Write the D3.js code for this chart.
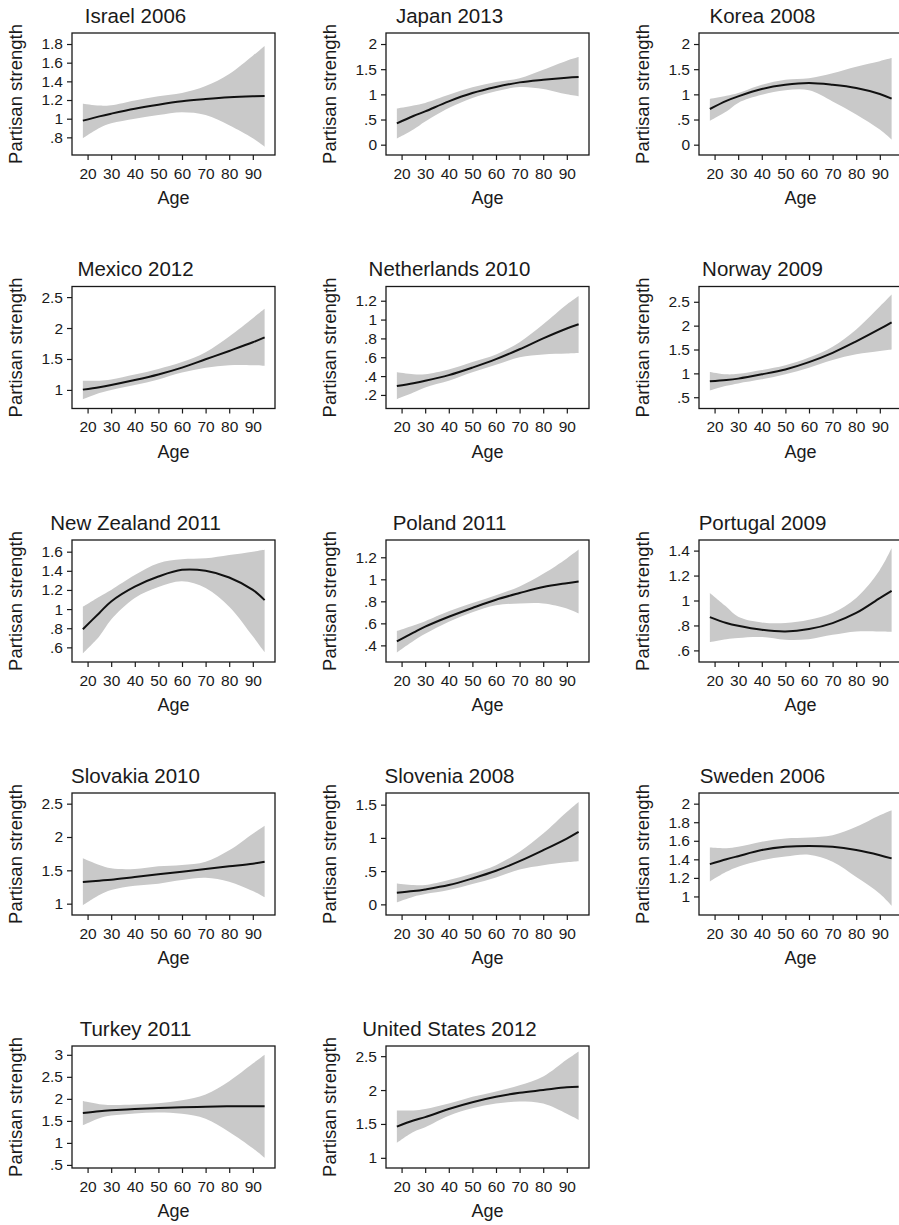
<!DOCTYPE html>
<html>
<head>
<meta charset="utf-8">
<script src="https://cdn.jsdelivr.net/npm/d3@7"></script>
<style>
  html, body { margin: 0; padding: 0; background: #fff; }
  svg { display: block; font-family: "Liberation Sans", Arial, Helvetica, sans-serif; }
</style>
</head>
<body>
<svg id="chart" width="899" height="1225"></svg>
<script>
// Age grid at which the fitted curve and its confidence band are evaluated
const ages = [18, 25, 30, 40, 50, 60, 70, 80, 90, 95];

const titles = [
  "Israel 2006", "Japan 2013", "Korea 2008",
  "Mexico 2012", "Netherlands 2010", "Norway 2009",
  "New Zealand 2011", "Poland 2011", "Portugal 2009",
  "Slovakia 2010", "Slovenia 2008", "Sweden 2006",
  "Turkey 2011", "United States 2012"
];

// Fitted partisan strength by age
const fit = [
  [0.979, 1.025, 1.054, 1.107, 1.15, 1.186, 1.21, 1.229, 1.24, 1.243],
  [0.424, 0.57, 0.662, 0.861, 1.026, 1.146, 1.238, 1.29, 1.33, 1.344],
  [0.709, 0.87, 0.96, 1.106, 1.19, 1.225, 1.19, 1.126, 1.007, 0.914],
  [1.005, 1.045, 1.08, 1.16, 1.25, 1.36, 1.495, 1.63, 1.77, 1.85],
  [0.295, 0.325, 0.35, 0.41, 0.49, 0.58, 0.685, 0.8, 0.905, 0.95],
  [0.833, 0.86, 0.89, 0.98, 1.083, 1.236, 1.43, 1.67, 1.93, 2.07],
  [0.79, 0.96, 1.08, 1.235, 1.34, 1.41, 1.40, 1.33, 1.2, 1.094],
  [0.437, 0.515, 0.57, 0.66, 0.74, 0.815, 0.875, 0.93, 0.965, 0.98],
  [0.867, 0.82, 0.797, 0.765, 0.752, 0.771, 0.819, 0.9, 1.019, 1.077],
  [1.324, 1.345, 1.36, 1.40, 1.44, 1.48, 1.52, 1.56, 1.60, 1.63],
  [0.175, 0.2, 0.225, 0.29, 0.39, 0.505, 0.65, 0.815, 0.99, 1.09],
  [1.348, 1.40, 1.434, 1.50, 1.535, 1.545, 1.535, 1.50, 1.445, 1.41],
  [1.68, 1.72, 1.74, 1.77, 1.79, 1.81, 1.82, 1.83, 1.83, 1.83],
  [1.46, 1.55, 1.6, 1.72, 1.82, 1.9, 1.96, 2.0, 2.04, 2.05]
];

// Upper bound of the 95% confidence band
const upper = [
  [1.16, 1.14, 1.145, 1.196, 1.24, 1.275, 1.35, 1.48, 1.675, 1.78],
  [0.72, 0.78, 0.83, 0.99, 1.14, 1.245, 1.32, 1.49, 1.67, 1.74],
  [0.907, 0.97, 1.026, 1.19, 1.29, 1.32, 1.42, 1.55, 1.66, 1.72],
  [1.15, 1.15, 1.17, 1.25, 1.34, 1.45, 1.61, 1.865, 2.16, 2.31],
  [0.44, 0.42, 0.42, 0.47, 0.55, 0.63, 0.76, 0.95, 1.16, 1.25],
  [1.03, 0.98, 0.99, 1.07, 1.17, 1.33, 1.56, 1.92, 2.40, 2.65],
  [1.025, 1.13, 1.2, 1.355, 1.48, 1.52, 1.53, 1.565, 1.6, 1.62],
  [0.53, 0.58, 0.62, 0.71, 0.785, 0.855, 0.935, 1.05, 1.19, 1.27],
  [1.06, 0.95, 0.87, 0.824, 0.819, 0.845, 0.9, 1.02, 1.245, 1.42],
  [1.68, 1.58, 1.53, 1.52, 1.56, 1.58, 1.63, 1.80, 2.05, 2.17],
  [0.315, 0.29, 0.29, 0.365, 0.465, 0.59, 0.79, 1.065, 1.39, 1.54],
  [1.527, 1.52, 1.535, 1.59, 1.625, 1.635, 1.66, 1.75, 1.875, 1.93],
  [1.95, 1.88, 1.86, 1.87, 1.9, 1.97, 2.1, 2.4, 2.8, 3.0],
  [1.7, 1.7, 1.72, 1.8, 1.9, 1.98, 2.07, 2.2, 2.45, 2.57]
];

// Lower bound of the 95% confidence band
const lower = [
  [0.79, 0.90, 0.95, 1.0, 1.04, 1.07, 1.04, 0.93, 0.79, 0.70],
  [0.12, 0.30, 0.46, 0.73, 0.93, 1.06, 1.146, 1.106, 1.0, 0.96],
  [0.477, 0.66, 0.83, 0.99, 1.08, 1.08, 0.86, 0.60, 0.30, 0.10],
  [0.85, 0.95, 1.0, 1.08, 1.17, 1.28, 1.36, 1.40, 1.40, 1.39],
  [0.155, 0.225, 0.28, 0.35, 0.44, 0.52, 0.60, 0.63, 0.64, 0.645],
  [0.64, 0.74, 0.79, 0.875, 0.98, 1.12, 1.28, 1.40, 1.47, 1.50],
  [0.535, 0.715, 0.89, 1.115, 1.23, 1.29, 1.22, 1.025, 0.715, 0.55],
  [0.335, 0.44, 0.505, 0.615, 0.70, 0.765, 0.78, 0.78, 0.735, 0.69],
  [0.667, 0.69, 0.70, 0.707, 0.685, 0.69, 0.725, 0.752, 0.752, 0.75],
  [0.975, 1.13, 1.205, 1.27, 1.30, 1.355, 1.39, 1.33, 1.19, 1.095],
  [0.03, 0.115, 0.155, 0.215, 0.305, 0.405, 0.525, 0.59, 0.635, 0.65],
  [1.16, 1.265, 1.32, 1.39, 1.43, 1.45, 1.375, 1.21, 1.03, 0.90],
  [1.4, 1.56, 1.62, 1.67, 1.69, 1.66, 1.55, 1.25, 0.88, 0.66],
  [1.22, 1.38, 1.45, 1.62, 1.73, 1.8, 1.83, 1.8, 1.65, 1.56]
];

// Y-axis ticks and ranges for each panel
const yTicks = [
  [0.8, 1, 1.2, 1.4, 1.6, 1.8],
  [0, 0.5, 1, 1.5, 2],
  [0, 0.5, 1, 1.5, 2],
  [1, 1.5, 2, 2.5],
  [0.2, 0.4, 0.6, 0.8, 1, 1.2],
  [0.5, 1, 1.5, 2, 2.5],
  [0.6, 0.8, 1, 1.2, 1.4, 1.6],
  [0.4, 0.6, 0.8, 1, 1.2],
  [0.6, 0.8, 1, 1.2, 1.4],
  [1, 1.5, 2, 2.5],
  [0, 0.5, 1, 1.5],
  [1, 1.2, 1.4, 1.6, 1.8, 2],
  [0.5, 1, 1.5, 2, 2.5, 3],
  [1, 1.5, 2, 2.5]
];
const yRanges = [
  [0.611, 1.918], [-0.205, 2.219], [-0.205, 2.219],
  [0.70, 2.671], [0.056, 1.351], [0.264, 2.82],
  [0.447, 1.722], [0.249, 1.357], [0.507, 1.485],
  [0.83, 2.66], [-0.16, 1.675], [0.80, 2.115],
  [0.43, 3.2], [0.85, 2.65]
];

const xTicks = [20, 30, 40, 50, 60, 70, 80, 90];
const xRange = [13.4, 99.4];

// Layout of the 3-column grid
const colLeft = [72, 386, 699];
const rowTop = [33, 286.5, 540, 793, 1046];
const boxW = 203, boxH = 122;

const svg = d3.select("#chart");
const ink = "#1a1a1a";
const fmt = v => {
  const s = d3.format("~g")(v);
  return s.replace(/^0\./, ".").replace(/^-0\./, "-.");
};
const smooth = d3.curveCatmullRom.alpha(0.5);

titles.forEach((title, i) => {
  const col = i % 3, row = Math.floor(i / 3);
  const x0 = colLeft[col], y0 = rowTop[row];
  const g = svg.append("g").attr("transform", `translate(${x0},${y0})`);

  const x = d3.scaleLinear().domain(xRange).range([0, boxW]);
  const y = d3.scaleLinear().domain(yRanges[i]).range([boxH, 0]);

  const rows = ages.map((a, k) => ({ age: a, fit: fit[i][k], hi: upper[i][k], lo: lower[i][k] }));

  // confidence band
  g.append("path")
    .datum(rows)
    .attr("fill", "#c9c9c9")
    .attr("d", d3.area()
      .curve(smooth)
      .x(d => x(d.age)).y0(d => y(d.lo)).y1(d => y(d.hi)));

  // fitted curve
  g.append("path")
    .datum(rows)
    .attr("fill", "none")
    .attr("stroke", "#111")
    .attr("stroke-width", 2)
    .attr("d", d3.line()
      .curve(smooth)
      .x(d => x(d.age)).y(d => y(d.fit)));

  // frame
  g.append("rect")
    .attr("x", 0).attr("y", 0).attr("width", boxW).attr("height", boxH)
    .attr("fill", "none").attr("stroke", ink).attr("stroke-width", 1.3);

  // axes
  const xAxis = d3.axisBottom(x).tickValues(xTicks).tickSize(5).tickPadding(4).tickFormat(d3.format("d"));
  const gx = g.append("g").attr("transform", `translate(0,${boxH})`).call(xAxis);
  const yAxis = d3.axisLeft(y).tickValues(yTicks[i]).tickSize(5).tickPadding(4).tickFormat(fmt);
  const gy = g.append("g").call(yAxis);

  [gx, gy].forEach(ax => {
    ax.select(".domain").remove();
    ax.selectAll(".tick line").attr("stroke", ink).attr("stroke-width", 1.2);
    ax.selectAll(".tick text").attr("fill", ink).style("font-size", "15.5px")
      .style("font-family", "'Liberation Sans', Arial, Helvetica, sans-serif");
  });
  gx.selectAll(".tick text").attr("dy", "0.95em");

  // axis titles
  g.append("text")
    .attr("x", boxW / 2).attr("y", boxH + 49)
    .attr("text-anchor", "middle").attr("fill", ink)
    .style("font-size", "18px").text("Age");
  g.append("text")
    .attr("transform", `translate(-50,${boxH / 2}) rotate(-90)`)
    .attr("text-anchor", "middle").attr("fill", ink)
    .style("font-size", "18.5px").text("Partisan strength");

  // panel title
  g.append("text")
    .attr("x", boxW / 2 - 38).attr("y", -10.5)
    .attr("text-anchor", "middle").attr("fill", ink)
    .style("font-size", "20.5px").text(title);
});
</script>
</body>
</html>
